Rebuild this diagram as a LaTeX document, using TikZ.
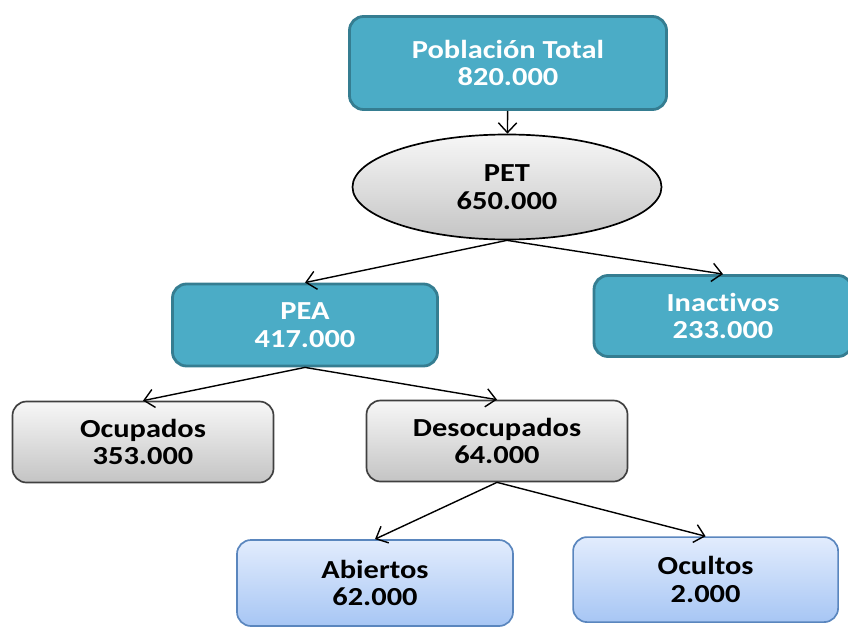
\documentclass[tikz,border=0pt]{standalone}
\usepackage{fontspec}
\setmainfont{Carlito}[FakeStretch=1.17, Ligatures=NoCommon]
\usetikzlibrary{arrows.meta,shapes.geometric}
\definecolor{tealfill}{HTML}{4BACC6}
\definecolor{tealline}{HTML}{357D91}
\definecolor{greytop}{HTML}{F7F7F7}
\definecolor{greybot}{HTML}{C4C4C4}
\definecolor{bluetop}{HTML}{E2ECFD}
\definecolor{bluebot}{HTML}{A7C6F4}
\definecolor{blueline}{HTML}{5A86BE}
\begin{document}
\begin{tikzpicture}[
    >={Straight Barb[length=7pt,width=13pt]},
    every node/.style={align=center, font=\fontsize{18.5}{19.5}\selectfont\bfseries},
    tealbox/.style={draw=tealline, line width=2pt, fill=tealfill, text=white, rounded corners=0.35cm},
    greybox/.style={draw=black!75, line width=1.2pt, top color=greytop, bottom color=greybot, rounded corners=0.35cm},
    bluebox/.style={draw=blueline, line width=1.2pt, top color=bluetop, bottom color=bluebot, rounded corners=0.35cm},
    link/.style={->, line width=1pt}
]
\useasboundingbox (0,0) rectangle (21.2,-15.65);

\node (total) at (12.70, -1.575) [tealbox, minimum width=7.925cm, minimum height=2.325cm] {Población Total\\820.000};
\node (pet) at (12.675, -4.675) [ellipse, draw=black, line width=1.2pt, top color=greytop, bottom color=greybot, minimum width=7.725cm, minimum height=2.625cm] {PET\\650.000};
\node (pea) at (7.625, -8.125) [tealbox, minimum width=6.625cm, minimum height=2.05cm] {PEA\\417.000};
\node (inact) at (18.075, -7.9) [tealbox, minimum width=6.45cm, minimum height=2.025cm] {Inactivos\\233.000};
\node (ocup) at (3.575, -11.05) [greybox, minimum width=6.525cm, minimum height=2.025cm] {Ocupados\\353.000};
\node (desoc) at (12.425, -11.025) [greybox, minimum width=6.525cm, minimum height=2.025cm] {Desocupados\\64.000};
\node (abiert) at (9.375, -14.575) [bluebox, minimum width=6.9cm, minimum height=2.15cm] {Abiertos\\62.000};
\node (ocult) at (17.64, -14.49) [bluebox, minimum width=6.625cm, minimum height=2.125cm] {Ocultos\\2.000};

\draw[link] (total) -- (pet);
\draw[link] (pet.south) -- (pea.north);
\draw[link] (pet.south) -- (inact.north);
\draw[link] (pea.south) -- (ocup.north);
\draw[link] (pea.south) -- (desoc.north);
\draw[link] (desoc.south) -- (abiert.north);
\draw[link] (desoc.south) -- (ocult.north);
\end{tikzpicture}
\end{document}
